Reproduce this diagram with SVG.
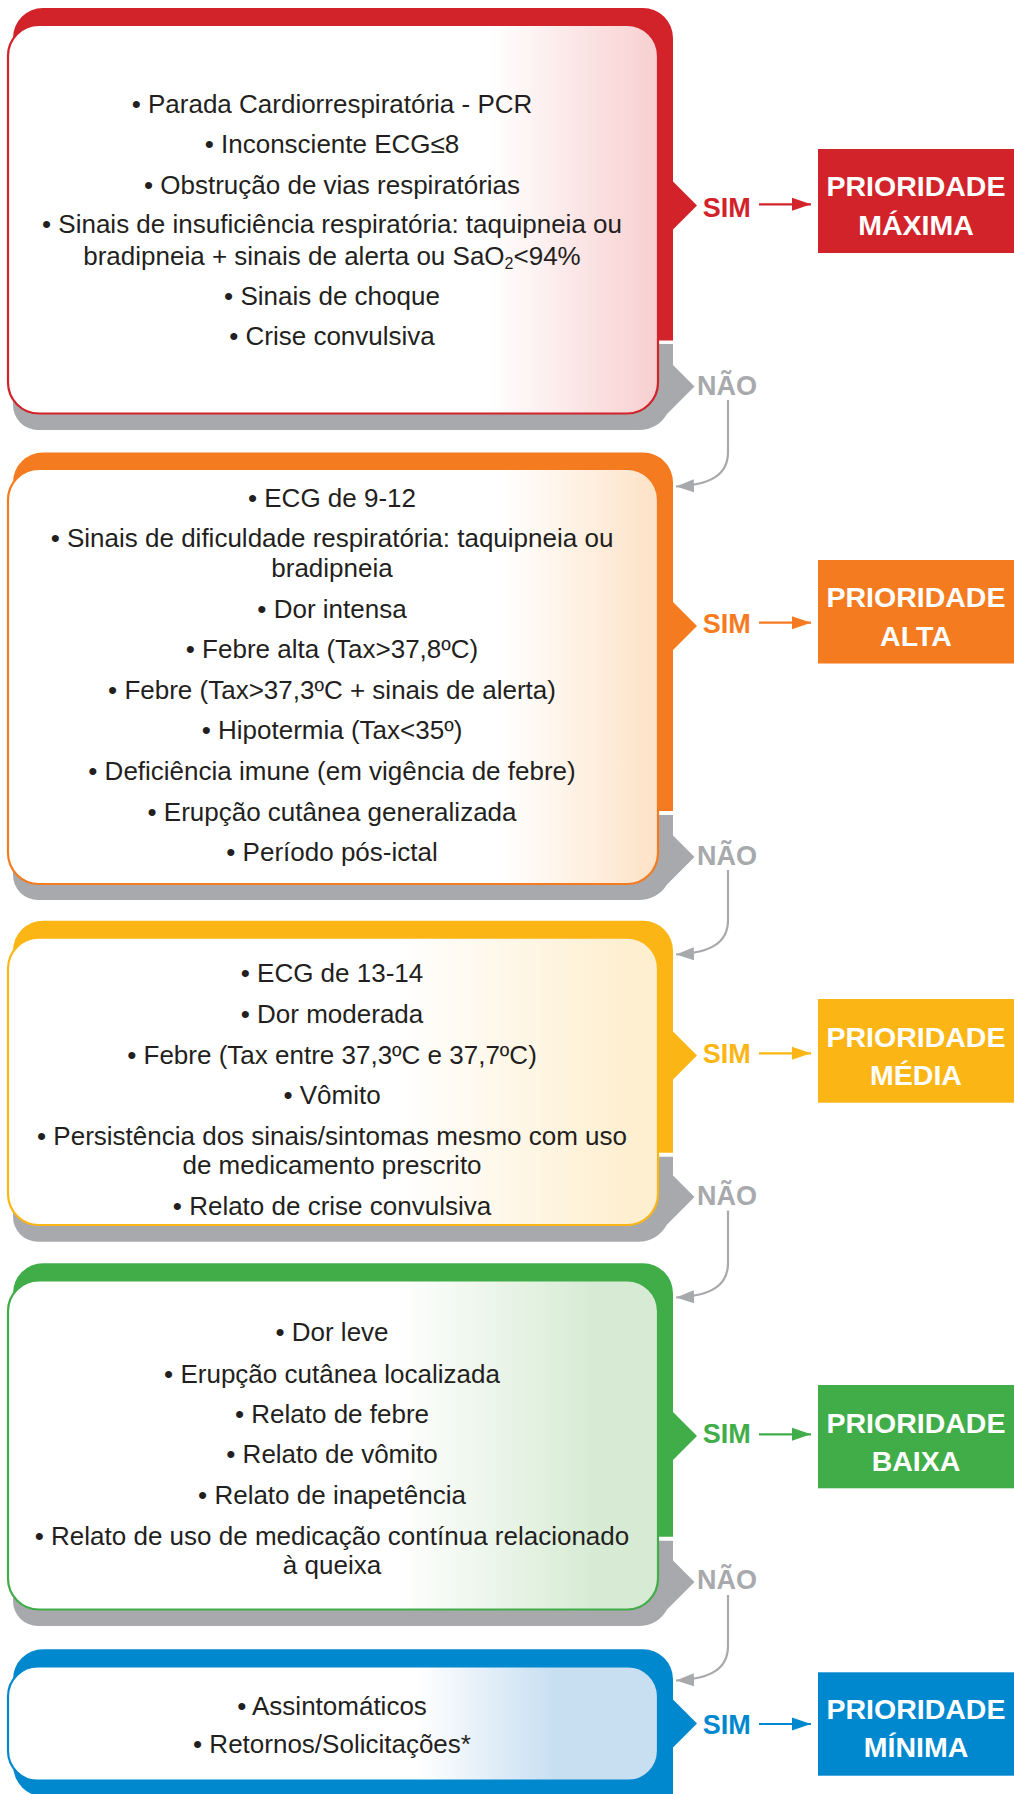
<svg xmlns="http://www.w3.org/2000/svg" width="1014" height="1794" viewBox="0 0 1014 1794">
<defs>
<style>
.body{font-family:"Liberation Sans",Arial,sans-serif;font-size:26px;fill:#231f20;text-anchor:middle}
.lbl{font-family:"Liberation Sans",Arial,sans-serif;font-size:27px;font-weight:700}
.pri{font-family:"Liberation Sans",Arial,sans-serif;font-size:28.5px;font-weight:700;fill:#fff;text-anchor:middle}
.gray{fill:#a7a9ac}
.nao{fill:#a7a9ac}
.conn{fill:none;stroke:#a7a9ac;stroke-width:2.2}
</style>
<linearGradient id="gR" x1="0" y1="0" x2="1" y2="0"><stop offset="0.74" stop-color="#fff"/><stop offset="1" stop-color="#f8cfd0"/></linearGradient>
<linearGradient id="gO" x1="0" y1="0" x2="1" y2="0"><stop offset="0.76" stop-color="#fff"/><stop offset="1" stop-color="#fde2c6"/></linearGradient>
<linearGradient id="gY" x1="0" y1="0" x2="1" y2="0"><stop offset="0.6" stop-color="#fff"/><stop offset="0.95" stop-color="#feefd0"/></linearGradient>
<linearGradient id="gG" x1="0" y1="0" x2="1" y2="0"><stop offset="0.6" stop-color="#fff"/><stop offset="0.9" stop-color="#d7ebd4"/></linearGradient>
<linearGradient id="gB" x1="0" y1="0" x2="1" y2="0"><stop offset="0.63" stop-color="#fff"/><stop offset="0.84" stop-color="#c8dff2"/></linearGradient>
<marker id="aR" markerUnits="userSpaceOnUse" markerWidth="20" markerHeight="14" viewBox="0 0 20 14" refX="19" refY="7" orient="auto"><path d="M0,0.5 L19,7 L0,13.5 Z" fill="#d2232a"/></marker>
<marker id="aO" markerUnits="userSpaceOnUse" markerWidth="20" markerHeight="14" viewBox="0 0 20 14" refX="19" refY="7" orient="auto"><path d="M0,0.5 L19,7 L0,13.5 Z" fill="#f47b20"/></marker>
<marker id="aY" markerUnits="userSpaceOnUse" markerWidth="20" markerHeight="14" viewBox="0 0 20 14" refX="19" refY="7" orient="auto"><path d="M0,0.5 L19,7 L0,13.5 Z" fill="#fbb615"/></marker>
<marker id="aG" markerUnits="userSpaceOnUse" markerWidth="20" markerHeight="14" viewBox="0 0 20 14" refX="19" refY="7" orient="auto"><path d="M0,0.5 L19,7 L0,13.5 Z" fill="#41ad49"/></marker>
<marker id="aB" markerUnits="userSpaceOnUse" markerWidth="20" markerHeight="14" viewBox="0 0 20 14" refX="19" refY="7" orient="auto"><path d="M0,0.5 L19,7 L0,13.5 Z" fill="#0088cf"/></marker>
<marker id="aN" markerUnits="userSpaceOnUse" markerWidth="20" markerHeight="14" viewBox="0 0 20 14" refX="18" refY="7" orient="auto"><path d="M0,0.5 L18,7 L0,13.5 Z" fill="#a7a9ac"/></marker>
</defs>
<rect width="1014" height="1794" fill="#fff"/>

<!-- Block 1: red -->
<g id="box-maxima">
<path class="gray" d="M13,344 H673 V365 L694.5,386.5 L667,414 C661,424 652,430 638,430 H38 A25,25 0 0 1 13,405 Z"/>
<path fill="#d2232a" d="M13,38 A30,30 0 0 1 43,8 H643 A30,30 0 0 1 673,38 V181.5 L697,205.5 L673,229.5 V340.5 H13 Z"/>
<rect x="8" y="25" width="650" height="388.5" rx="31" fill="url(#gR)" stroke="#d2232a" stroke-width="2.2"/>
<text class="body" x="332" y="112.5">• Parada Cardiorrespiratória - PCR</text>
<text class="body" x="332" y="153.3">• Inconsciente ECG≤8</text>
<text class="body" x="332" y="194">• Obstrução de vias respiratórias</text>
<text class="body" x="332" y="233.3">• Sinais de insuficiência respiratória: taquipneia ou</text>
<text class="body" x="332" y="264.5">bradipneia + sinais de alerta ou SaO<tspan font-size="16" dy="4">2</tspan><tspan dy="-4">&lt;94%</tspan></text>
<text class="body" x="332" y="305">• Sinais de choque</text>
<text class="body" x="332" y="345">• Crise convulsiva</text>
</g>
<g id="prio-maxima">
<rect x="818" y="149" width="196" height="104" fill="#d2232a"/>
<text class="pri" x="916" y="195.5">PRIORIDADE</text>
<text class="pri" x="916" y="234.5">MÁXIMA</text>
</g>

<!-- Block 2: orange -->
<g id="box-alta">
<path class="gray" d="M13,815 H673 V835.5 L694.5,857 L667,884.5 C661,894 652,900 638,900 H38 A25,25 0 0 1 13,875 Z"/>
<path fill="#f47b20" d="M13,482.5 A30,30 0 0 1 43,452.5 H643 A30,30 0 0 1 673,482.5 V602 L697,626 L673,650 V811 H13 Z"/>
<rect x="8" y="469" width="650" height="415" rx="31" fill="url(#gO)" stroke="#f47b20" stroke-width="2.2"/>
<text class="body" x="332" y="506.7">• ECG de 9-12</text>
<text class="body" x="332" y="547">• Sinais de dificuldade respiratória: taquipneia ou</text>
<text class="body" x="332" y="576.7">bradipneia</text>
<text class="body" x="332" y="617.7">• Dor intensa</text>
<text class="body" x="332" y="658">• Febre alta (Tax&gt;37,8ºC)</text>
<text class="body" x="332" y="699">• Febre (Tax&gt;37,3ºC + sinais de alerta)</text>
<text class="body" x="332" y="739">• Hipotermia (Tax&lt;35º)</text>
<text class="body" x="332" y="780">• Deficiência imune (em vigência de febre)</text>
<text class="body" x="332" y="821">• Erupção cutânea generalizada</text>
<text class="body" x="332" y="860.7">• Período pós-ictal</text>
</g>
<g id="prio-alta">
<rect x="818" y="560" width="196" height="103.5" fill="#f47b20"/>
<text class="pri" x="916" y="606.5">PRIORIDADE</text>
<text class="pri" x="916" y="645.5">ALTA</text>
</g>

<!-- Block 3: yellow -->
<g id="box-media">
<path class="gray" d="M13,1156.7 H673 V1175.5 L694.5,1197 L667,1224.5 C661,1235 652,1241.7 638,1241.7 H38 A25,25 0 0 1 13,1216.7 Z"/>
<path fill="#fbb615" d="M13,950.7 A30,30 0 0 1 43,920.7 H643 A30,30 0 0 1 673,950.7 V1031.5 L697,1055.5 L673,1079.5 V1152.7 H13 Z"/>
<rect x="8" y="937.7" width="650" height="287.3" rx="31" fill="url(#gY)" stroke="#fbb615" stroke-width="2.2"/>
<text class="body" x="332" y="981.7">• ECG de 13-14</text>
<text class="body" x="332" y="1023.3">• Dor moderada</text>
<text class="body" x="332" y="1064">• Febre (Tax entre 37,3ºC e 37,7ºC)</text>
<text class="body" x="332" y="1104">• Vômito</text>
<text class="body" x="332" y="1145">• Persistência dos sinais/sintomas mesmo com uso</text>
<text class="body" x="332" y="1174">de medicamento prescrito</text>
<text class="body" x="332" y="1215">• Relato de crise convulsiva</text>
</g>
<g id="prio-media">
<rect x="818" y="999" width="196" height="103.7" fill="#fbb615"/>
<text class="pri" x="916" y="1046.5">PRIORIDADE</text>
<text class="pri" x="916" y="1084.5">MÉDIA</text>
</g>

<!-- Block 4: green -->
<g id="box-baixa">
<path class="gray" d="M13,1540.7 H673 V1560.5 L694.5,1582 L667,1609.5 C661,1620 652,1626 638,1626 H38 A25,25 0 0 1 13,1601 Z"/>
<path fill="#41ad49" d="M13,1293.3 A30,30 0 0 1 43,1263.3 H643 A30,30 0 0 1 673,1293.3 V1412 L697,1436 L673,1460 V1536.7 H13 Z"/>
<rect x="8" y="1280.3" width="650" height="329.2" rx="31" fill="url(#gG)" stroke="#41ad49" stroke-width="2.2"/>
<text class="body" x="332" y="1341">• Dor leve</text>
<text class="body" x="332" y="1382.7">• Erupção cutânea localizada</text>
<text class="body" x="332" y="1423.3">• Relato de febre</text>
<text class="body" x="332" y="1463.3">• Relato de vômito</text>
<text class="body" x="332" y="1504.3">• Relato de inapetência</text>
<text class="body" x="332" y="1545">• Relato de uso de medicação contínua relacionado</text>
<text class="body" x="332" y="1574">à queixa</text>
</g>
<g id="prio-baixa">
<rect x="818" y="1385" width="196" height="103.3" fill="#41ad49"/>
<text class="pri" x="916" y="1432.5">PRIORIDADE</text>
<text class="pri" x="916" y="1470.5">BAIXA</text>
</g>

<!-- Block 5: blue -->
<g id="box-minima">
<path fill="#0088cf" d="M13,1679.3 A30,30 0 0 1 43,1649.3 H643 A30,30 0 0 1 673,1679.3 V1699.5 L697,1723.5 L673,1747.5 V1797 H45 A32,32 0 0 1 13,1765 Z"/>
<rect x="8" y="1666.5" width="650" height="114.2" rx="30" fill="url(#gB)" stroke="#0088cf" stroke-width="2.2"/>
<text class="body" x="332" y="1715">• Assintomáticos</text>
<text class="body" x="332" y="1752.7">• Retornos/Solicitações*</text>
</g>
<g id="prio-minima">
<rect x="818" y="1672.3" width="196" height="103.4" fill="#0088cf"/>
<text class="pri" x="916" y="1719.3">PRIORIDADE</text>
<text class="pri" x="916" y="1757.3">MÍNIMA</text>
</g>

<!-- Connectors -->
<g id="connectors">
<text class="lbl" x="702.7" y="216.7" fill="#d2232a">SIM</text>
<path d="M759,204.3 H811" stroke="#d2232a" stroke-width="2.2" fill="none" marker-end="url(#aR)"/>
<text class="lbl" x="702.7" y="632.7" fill="#f47b20">SIM</text>
<path d="M759,622.7 H811" stroke="#f47b20" stroke-width="2.2" fill="none" marker-end="url(#aO)"/>
<text class="lbl" x="702.7" y="1063.3" fill="#fbb615">SIM</text>
<path d="M759,1053.3 H811" stroke="#fbb615" stroke-width="2.2" fill="none" marker-end="url(#aY)"/>
<text class="lbl" x="702.7" y="1443.3" fill="#41ad49">SIM</text>
<path d="M759,1434.3 H811" stroke="#41ad49" stroke-width="2.2" fill="none" marker-end="url(#aG)"/>
<text class="lbl" x="702.7" y="1734.3" fill="#0088cf">SIM</text>
<path d="M759,1724 H811" stroke="#0088cf" stroke-width="2.2" fill="none" marker-end="url(#aB)"/>

<text class="lbl nao" x="697" y="395">NÃO</text>
<path class="conn" d="M728,400 V452 C728,474 712,485 676,486.5" marker-end="url(#aN)"/>
<text class="lbl nao" x="697" y="865">NÃO</text>
<path class="conn" d="M728,870 V920 C728,942 712,953 676,954.5" marker-end="url(#aN)"/>
<text class="lbl nao" x="697" y="1205">NÃO</text>
<path class="conn" d="M728,1210.5 V1263 C728,1285 712,1296 676,1297.5" marker-end="url(#aN)"/>
<text class="lbl nao" x="697" y="1589.3">NÃO</text>
<path class="conn" d="M728,1595 V1646 C728,1668 712,1679 676,1680.5" marker-end="url(#aN)"/>
</g>
</svg>
